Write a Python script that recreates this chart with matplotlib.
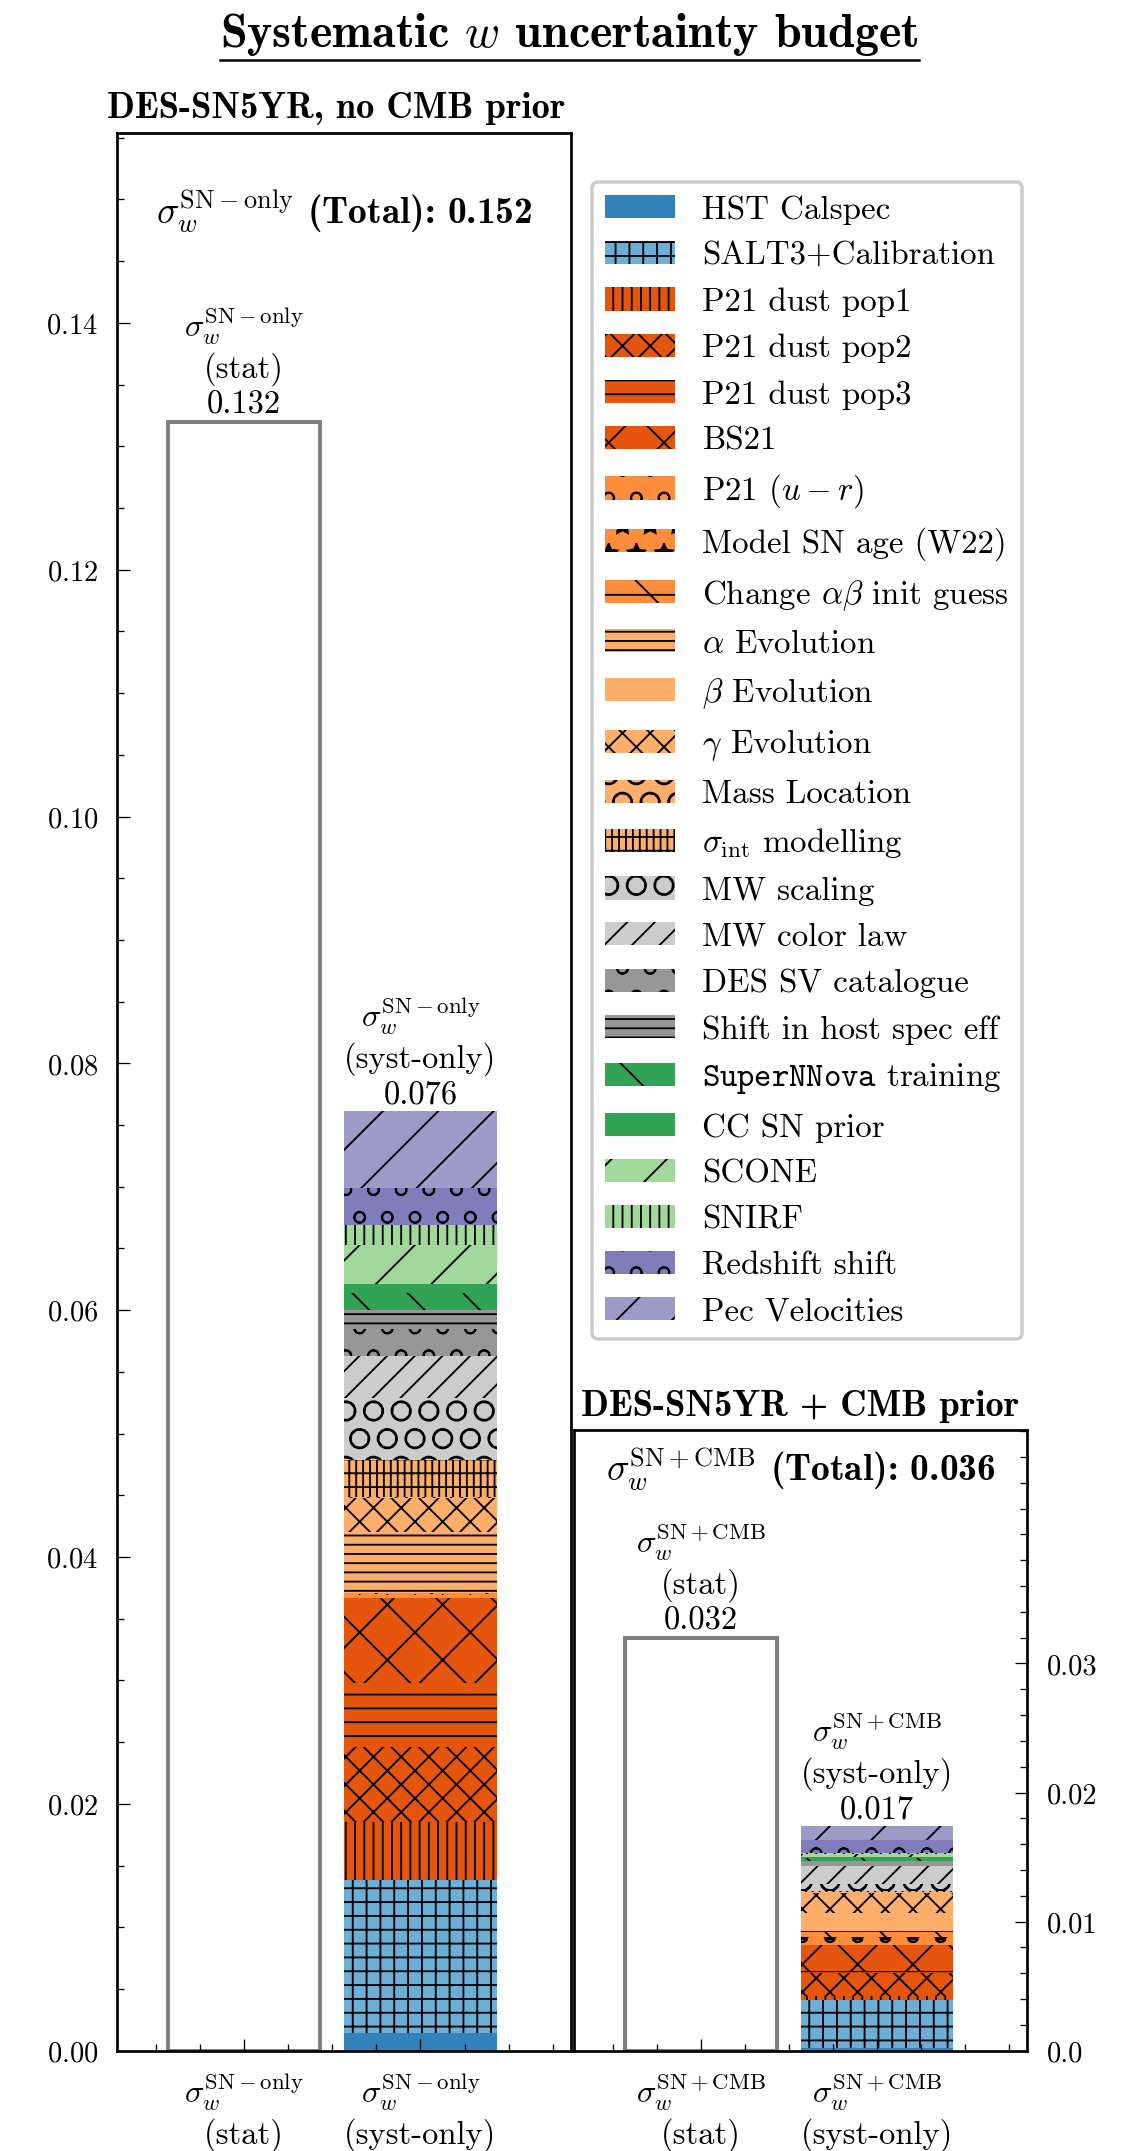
import matplotlib
matplotlib.use('Agg')
import matplotlib.pyplot as plt
import numpy as np
from matplotlib.ticker import MultipleLocator
from matplotlib.lines import Line2D

plt.rcParams['font.family'] = 'cmr10'
plt.rcParams['mathtext.fontset'] = 'cm'
plt.rcParams['axes.formatter.use_mathtext'] = True
plt.rcParams['axes.unicode_minus'] = False
plt.rcParams['hatch.linewidth'] = 0.8

# ---- data ----
sources = ['HST Calspec', 'SALT3+Calibration', 'P21 dust pop1', 'P21 dust pop2',
           'P21 dust pop3', 'BS21', r'P21 $(u-r)$', 'Model SN age (W22)',
           r'Change $\alpha\beta$ init guess', r'$\alpha$ Evolution', r'$\beta$ Evolution',
           r'$\gamma$ Evolution', 'Mass Location', r'$\sigma_{\rm int}$ modelling',
           'MW scaling', 'MW color law', 'DES SV catalogue', 'Shift in host spec eff',
           r'$\mathtt{SuperNNova}$ training', 'CC SN prior', 'SCONE', 'SNIRF',
           'Redshift shift', 'Pec Velocities']
colors = ['#3182bd', '#6baed6', '#e6550d', '#e6550d', '#e6550d', '#e6550d',
          '#fd8d3c', '#fd8d3c', '#fd8d3c', '#fdae6b', '#fdae6b', '#fdae6b',
          '#fdae6b', '#fdae6b', '#cccccc', '#cccccc', '#969696', '#969696',
          '#31a354', '#31a354', '#a1d99b', '#a1d99b', '#807dba', '#9e9ac8']
hatches = ['', '++', '|||', 'xx', '--', 'x', 'o', '*', '-\\', '---', '', 'xx',
           'O', '++||', 'O', '//', 'o', '---', '\\', '', '/', '|||', 'o', '/']

# systematic contributions to sigma_w (stacked), SN-only and SN+CMB
syst_sn = [0.0014, 0.0124, 0.0047, 0.0061, 0.0052, 0.0069, 0.0002, 0.0001,
           0.0001, 0.0048, 0.0001, 0.0028, 0.0001, 0.0030, 0.0050, 0.0034,
           0.0022, 0.0015, 0.0014, 0.0007, 0.0032, 0.0016, 0.0030, 0.0062]
syst_cmb = [0.0002, 0.0037, 0.0003, 0.0018, 0.0002, 0.0020, 0.0004, 0.0002,
            0.0004, 0.0001, 0.0014, 0.0015, 0.0001, 0.0001, 0.0005, 0.0014,
            0.0002, 0.0002, 0.0002, 0.0001, 0.0002, 0.0001, 0.0010, 0.0011]

stat_sn, syst_lbl_sn, tot_sn = 0.132, 0.076, 0.152
stat_cmb, syst_lbl_cmb, tot_cmb = 0.032, 0.017, 0.036
cmb_ticks = [0.0, 0.01, 0.02, 0.03]

# ---- figure ----
W, H, DPI = 1138, 2151, 166
fig = plt.figure(figsize=((W + 0.5) / DPI, (H + 0.5) / DPI), dpi=DPI)


def px(v):
    return v * 72.0 / DPI


ax1 = fig.add_axes([117 / W, 1 - 2050.7 / H, 454 / W, (2050.7 - 133.3) / H])
ax2 = fig.add_axes([574 / W, 1 - 2050.7 / H, 453 / W, (2050.7 - 1430) / H])

bw = 0.864
fs_lab = px(32.5)
fs_tick = px(28.5)


def panel(ax, stat, syst, syst_lbl, tot, tag):
    ax.bar(0, stat, width=bw, facecolor='white', edgecolor='grey', linewidth=px(4))
    bottom = 0.0
    for lab, val, col, hat in zip(sources, syst, colors, hatches):
        ax.bar(1, val, width=bw, bottom=bottom, color=col, hatch=hat,
               edgecolor='k', linewidth=0, label=lab)
        bottom += val
    sig = r'$\sigma_w^{\rm %s}$' % tag
    ax.annotate(sig + '\n(stat)\n%.3f' % stat, xy=(0, stat), xytext=(0, 1),
                textcoords='offset points', ha='center', va='bottom', fontsize=fs_lab)
    ax.annotate(sig + '\n(syst-only)\n%.3f' % syst_lbl, xy=(1, bottom), xytext=(0, 1),
                textcoords='offset points', ha='center', va='bottom', fontsize=fs_lab)
    ax.text(0.5, 0, sig + ' (Total): %.3f' % tot, transform=ax.transAxes,
            ha='center', va='baseline', fontfamily='cmb10', fontsize=px(37.5))
    ax.set_xticks([0, 1])
    ax.set_xticklabels([sig + '\n(stat)', sig + '\n(syst-only)'], fontsize=fs_lab)
    ax.xaxis.set_minor_locator(MultipleLocator(0.25))
    ax.set_xlim(-0.72, 1.855)
    for s in ax.spines.values():
        s.set_linewidth(px(2.7))
    ax.tick_params(which='both', direction='in', width=px(1.3), top=False)
    ax.tick_params(which='major', length=px(12.5))
    ax.tick_params(which='minor', length=px(7))
    ax.tick_params(axis='x', pad=px(20))
    ax.tick_params(axis='y', labelsize=fs_tick, pad=px(19))


panel(ax1, stat_sn, syst_sn, syst_lbl_sn, tot_sn, 'SN-only')
ax1.set_ylim(0, 0.1554)
ax1.yaxis.set_major_locator(MultipleLocator(0.02))
ax1.yaxis.set_minor_locator(MultipleLocator(0.005))
ax1.tick_params(axis='y', which='both', left=True, right=False)
ax1.texts[-1].set_y((2050.7 - 223.5) / (2050.7 - 133.3))

panel(ax2, stat_cmb, syst_cmb, syst_lbl_cmb, tot_cmb, 'SN+CMB')
ax2.set_ylim(0, 0.0481)
ax2.set_yticks(cmb_ticks)
ax2.set_yticklabels([str(v) for v in cmb_ticks])
ax2.yaxis.set_minor_locator(MultipleLocator(0.002))
ax2.yaxis.tick_right()
ax2.tick_params(axis='y', which='both', left=False, right=True)
ax2.texts[-1].set_y((2050.7 - 1481) / (2050.7 - 1430))

# titles
fig.text(336 / W, 1 - 118 / H, 'DES-SN5YR, no CMB prior', ha='center', va='baseline',
         fontfamily='cmb10', fontsize=px(36.5))
fig.text(800 / W, 1 - 1416 / H, 'DES-SN5YR + CMB prior', ha='center', va='baseline',
         fontfamily='cmb10', fontsize=px(36.5))
title = fig.text(0.5, 1 - 46.5 / H, r'Systematic $w$ uncertainty budget', ha='center',
                 va='baseline', fontfamily='cmb10', fontsize=px(48))

handles, labels = ax1.get_legend_handles_labels()
leg = fig.legend(handles, labels, loc='upper left', bbox_to_anchor=(592 / W, 1 - 182 / H),
                 borderaxespad=0, fontsize=px(33), handlelength=2.12, handleheight=0.7,
                 handletextpad=0.82, labelspacing=0.51, borderpad=0.4, fancybox=True,
                 framealpha=1, edgecolor='#cccccc')
leg.get_frame().set_linewidth(px(3.5))

# underline the main title
fig.canvas.draw()
bb = title.get_window_extent()
fig.add_artist(Line2D([bb.x0 / W, bb.x1 / W], [1 - 60 / H] * 2, color='k',
                      linewidth=px(2.5), transform=fig.transFigure))

fig.savefig('out.png', dpi=DPI)
